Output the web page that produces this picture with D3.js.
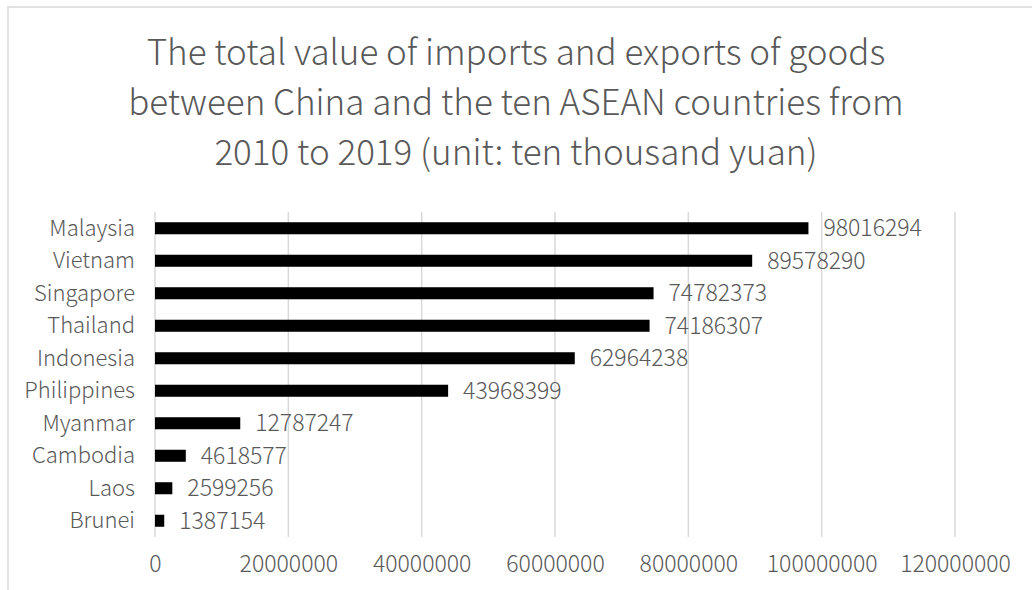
<!DOCTYPE html>
<html><head><meta charset="utf-8">
<script src="https://cdn.jsdelivr.net/npm/d3@7"></script>
<style>body{margin:0;background:#fff}svg{display:block}</style>
</head><body>
<svg id="c" width="1032" height="590"></svg>
<script>
const titleLines = ["The total value of imports and exports of goods","between China and the ten ASEAN countries from","2010 to 2019 (unit: ten thousand yuan)"];
const countries = ["Malaysia","Vietnam","Singapore","Thailand","Indonesia","Philippines","Myanmar","Cambodia","Laos","Brunei"];
const values = [98016294,89578290,74782373,74186307,62964238,43968399,12787247,4618577,2599256,1387154];
const ticks = [0,20000000,40000000,60000000,80000000,100000000,120000000];

const svg = d3.select("#c");
const font = "'Noto Sans CJK SC', 'Noto Sans', sans-serif";
const grey = "#595959";

svg.append("rect").attr("x",8).attr("y",7).attr("width",1040).attr("height",600)
  .attr("fill","#fff").attr("stroke","#d9d9d9").attr("stroke-width",1.5);

const x = d3.scaleLinear().domain([0,120000000]).range([155,955]);
const y = d3.scaleBand().domain(countries).range([212,537]).paddingInner(0.63).paddingOuter(0.315);

svg.append("g").selectAll("line").data(ticks).join("line")
  .attr("x1",d=>x(d)).attr("x2",d=>x(d)).attr("y1",212).attr("y2",537)
  .attr("stroke","#d9d9d9").attr("stroke-width",1.5);

const xAxis = svg.append("g").attr("transform","translate(0,537)")
  .call(d3.axisBottom(x).tickValues(ticks).tickFormat(d3.format("d")).tickSize(0).tickPadding(0));
xAxis.select(".domain").remove();
xAxis.selectAll("text").attr("dy",null).attr("y",35).attr("fill",grey)
  .style("font-family",font).style("font-size","23px").style("font-weight",300);

const yAxis = svg.append("g").attr("transform","translate(135,0)")
  .call(d3.axisLeft(y).tickSize(0).tickPadding(0));
yAxis.select(".domain").remove();
yAxis.selectAll("text").attr("fill",grey).attr("dy","0.35em")
  .style("font-family",font).style("font-size","22px").style("font-weight",300);

svg.append("g").selectAll("rect").data(countries).join("rect")
  .attr("x",x(0)).attr("y",d=>y(d)).attr("height",y.bandwidth())
  .attr("width",(d,i)=>x(values[i])-x(0)).attr("fill","#000");

svg.append("g").selectAll("text").data(countries).join("text")
  .attr("x",(d,i)=>x(values[i])+15).attr("y",d=>y(d)+y.bandwidth()/2).attr("dy","0.35em")
  .attr("fill",grey).style("font-family",font).style("font-size","23px").style("font-weight",300)
  .text((d,i)=>values[i]);

svg.append("g").selectAll("text").data(titleLines).join("text")
  .attr("x",516).attr("y",(d,i)=>65+i*50).attr("text-anchor","middle")
  .attr("fill",grey).style("font-family",font).style("font-size","35px").style("font-weight",300)
  .text(d=>d);
</script>
</body></html>
